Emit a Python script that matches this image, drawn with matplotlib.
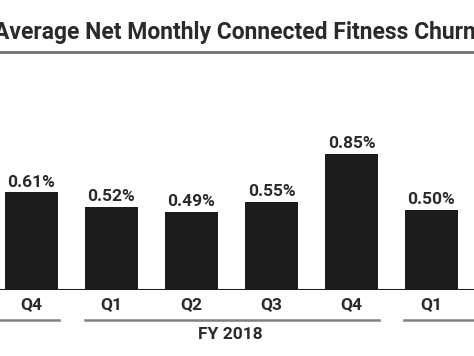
import matplotlib
matplotlib.use("Agg")
import matplotlib.pyplot as plt
from matplotlib.lines import Line2D

title = "Average Net Monthly Connected Fitness Churn"
quarters = ["Q4", "Q1", "Q2", "Q3", "Q4", "Q1"]
churn = [0.61, 0.52, 0.49, 0.55, 0.85, 0.50]
group_labels = ["", "FY 2018", ""]
group_spans = [(-0.39, 0.34), (0.67, 4.34), (4.66, 5.53)]

W, H = 474, 356
fig = plt.figure(figsize=(W / 100, H / 100), dpi=100)
ax = fig.add_axes([0, 66 / H, 1, 160 / H])

xs = list(range(len(churn)))
ax.bar(xs, churn, width=0.66, color="#1c1c1c", zorder=2)
ax.set_xlim(-31.5 / 80, (W - 31.5) / 80)
ax.set_ylim(0, 1)
for s in ax.spines.values():
    s.set_visible(False)
ax.axhline(0, color="#1c1c1c", lw=2.2, zorder=3)
ax.set_yticks([])
ax.set_xticks(xs)
ax.set_xticklabels(quarters, fontfamily="Roboto", fontweight="bold",
                   fontsize=12.5, color="#2a2a2a")
ax.tick_params(axis="x", length=0, pad=5)

for x, v in zip(xs, churn):
    ax.text(x, v + 0.018, f"{v:.2f}%", ha="center", va="bottom",
            fontfamily="Roboto", fontweight="bold", fontsize=12.5,
            color="#2a2a2a")

tr = ax.get_xaxis_transform()
for (a, b), lab in zip(group_spans, group_labels):
    ax.add_line(Line2D([a, b], [-0.1875, -0.1875], transform=tr,
                       color="#808080", lw=1.8, clip_on=False))
    if lab:
        ax.text(2.49, -0.28, lab, transform=tr, ha="center",
                va="center", fontfamily="Roboto", fontweight="bold",
                fontsize=12.5, color="#2a2a2a")

fig.text(-6 / W, 1 - 32 / H, title, ha="left", va="center",
         fontfamily="Roboto", fontweight="bold", fontsize=16.5, color="#2a2a2a")
fig.add_artist(Line2D([0, 1], [1 - 52 / H, 1 - 52 / H], transform=fig.transFigure,
                      color="#707070", lw=2))

fig.savefig("out.png", dpi=100, facecolor="white")
